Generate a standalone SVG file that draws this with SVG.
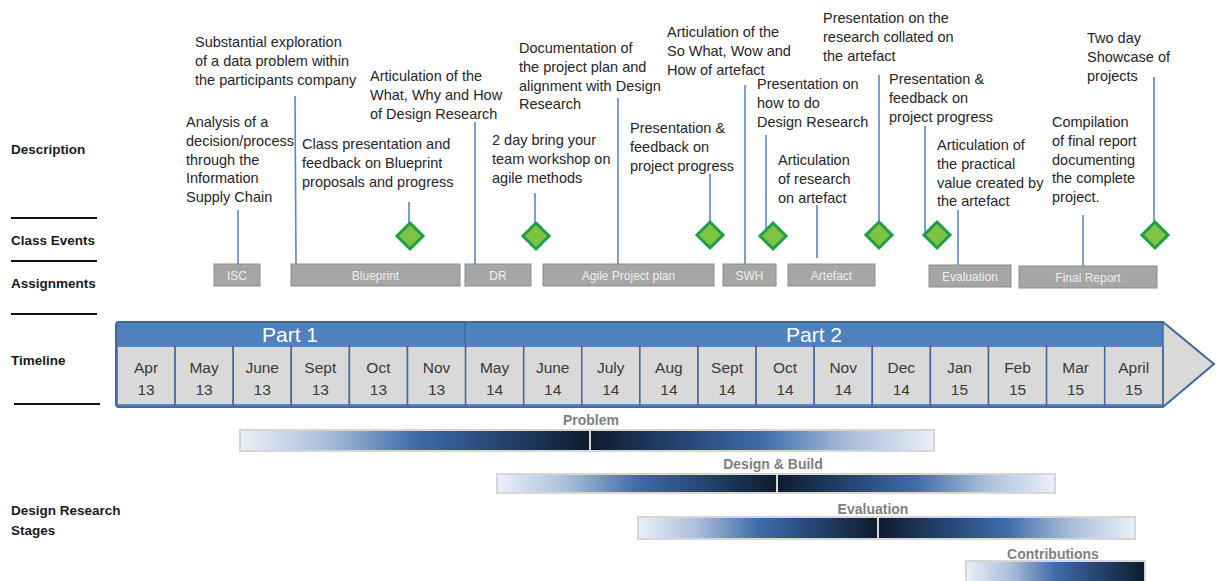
<svg xmlns="http://www.w3.org/2000/svg" width="1216" height="581" viewBox="0 0 1216 581">
<style>
.lbl{font-family:"Liberation Sans",Arial,sans-serif;font-weight:bold;font-size:13.5px;fill:#1a1a1a}
.rule{stroke:#111;stroke-width:2}
.desc{font-family:"Liberation Sans",Arial,sans-serif;font-size:14.5px;fill:#262626}
.conn{stroke:#5B87C0;stroke-width:1.6;fill:none}
.dia{fill:#7DC444;stroke:#1E9E45;stroke-width:3;stroke-linejoin:miter}
.box{fill:#A6A6A6;stroke:#8C8C8C;stroke-width:1}
.boxt{font-family:"Liberation Sans",Arial,sans-serif;font-size:12px;fill:#EEEEEE;text-anchor:middle}
.cell{fill:#D9D9D9;stroke:#3F6A9E;stroke-width:1.5}
.mon{font-family:"Liberation Sans",Arial,sans-serif;font-size:15.5px;fill:#3a3a3a;text-anchor:middle}
.part{font-family:"Liberation Sans",Arial,sans-serif;font-size:21px;fill:#ffffff;text-anchor:middle}
.stg{font-family:"Liberation Sans",Arial,sans-serif;font-weight:bold;font-size:14px;fill:#7F7F7F;text-anchor:middle}
.barbox{fill:#D6D6D6}
</style>
<defs>
<linearGradient id="up" x1="0" y1="0" x2="1" y2="0">
<stop offset="0" stop-color="#EAF0F8"/>
<stop offset="0.25" stop-color="#A9BDDA"/>
<stop offset="0.5" stop-color="#3E6CAA"/>
<stop offset="0.78" stop-color="#213E68"/>
<stop offset="1" stop-color="#0E1A2C"/>
</linearGradient>
<linearGradient id="down" x1="1" y1="0" x2="0" y2="0">
<stop offset="0" stop-color="#EAF0F8"/>
<stop offset="0.25" stop-color="#A9BDDA"/>
<stop offset="0.5" stop-color="#3E6CAA"/>
<stop offset="0.78" stop-color="#213E68"/>
<stop offset="1" stop-color="#0E1A2C"/>
</linearGradient>
<path id="diamond" d="M0,-13 L13,0 L0,13 L-13,0 Z"/>
</defs>
<rect width="1216" height="581" fill="#ffffff"/>

<g id="row-labels">
<text class="lbl" x="11" y="154">Description</text>
<line class="rule" x1="11" y1="218" x2="97" y2="218"/>
<text class="lbl" x="11" y="245">Class Events</text>
<line class="rule" x1="11" y1="261" x2="97" y2="261"/>
<text class="lbl" x="11" y="288">Assignments</text>
<line class="rule" x1="11" y1="314" x2="97" y2="314"/>
<text class="lbl" x="11" y="365">Timeline</text>
<line class="rule" x1="14" y1="404" x2="100" y2="404"/>
<text class="lbl" x="11" y="515">Design Research</text>
<text class="lbl" x="11" y="535">Stages</text>
</g>

<g id="descriptions">
<text id="d-isc" class="desc" x="186" y="127"><tspan x="186">Analysis of a</tspan><tspan x="186" dy="18.8">decision/process</tspan><tspan x="186" dy="18.8">through the</tspan><tspan x="186" dy="18.8">Information</tspan><tspan x="186" dy="18.8">Supply Chain</tspan></text>
<text id="d-blueprint" class="desc" x="195" y="47"><tspan x="195">Substantial exploration</tspan><tspan x="195" dy="18.8">of a data problem within</tspan><tspan x="195" dy="18.8">the participants company</tspan></text>
<text id="d-dr" class="desc" x="370" y="81"><tspan x="370">Articulation of the</tspan><tspan x="370" dy="18.8">What, Why and How</tspan><tspan x="370" dy="18.8">of Design Research</tspan></text>
<text id="d-class1" class="desc" x="302" y="149"><tspan x="302">Class presentation and</tspan><tspan x="302" dy="18.8">feedback on Blueprint</tspan><tspan x="302" dy="18.8">proposals and progress</tspan></text>
<text id="d-agile" class="desc" x="519" y="53"><tspan x="519">Documentation of</tspan><tspan x="519" dy="18.8">the project plan and</tspan><tspan x="519" dy="18.8">alignment with Design</tspan><tspan x="519" dy="18.8">Research</tspan></text>
<text id="d-workshop" class="desc" x="492" y="145"><tspan x="492">2 day bring your</tspan><tspan x="492" dy="18.8">team workshop on</tspan><tspan x="492" dy="18.8">agile methods</tspan></text>
<text id="d-prog1" class="desc" x="630" y="133"><tspan x="630">Presentation &amp;</tspan><tspan x="630" dy="18.8">feedback on</tspan><tspan x="630" dy="18.8">project progress</tspan></text>
<text id="d-swh" class="desc" x="667" y="37"><tspan x="667">Articulation of the</tspan><tspan x="667" dy="18.8">So What, Wow and</tspan><tspan x="667" dy="18.8">How of artefact</tspan></text>
<text id="d-howto" class="desc" x="757" y="89"><tspan x="757">Presentation on</tspan><tspan x="757" dy="18.8">how to do</tspan><tspan x="757" dy="18.8">Design Research</tspan></text>
<text id="d-artefact" class="desc" x="778" y="165"><tspan x="778">Articulation</tspan><tspan x="778" dy="18.8">of research</tspan><tspan x="778" dy="18.8">on artefact</tspan></text>
<text id="d-collated" class="desc" x="823" y="23"><tspan x="823">Presentation on the</tspan><tspan x="823" dy="18.8">research collated on</tspan><tspan x="823" dy="18.8">the artefact</tspan></text>
<text id="d-prog2" class="desc" x="889" y="84"><tspan x="889">Presentation &amp;</tspan><tspan x="889" dy="18.8">feedback on</tspan><tspan x="889" dy="18.8">project progress</tspan></text>
<text id="d-eval" class="desc" x="937" y="150"><tspan x="937">Articulation of</tspan><tspan x="937" dy="18.8">the practical</tspan><tspan x="937" dy="18.8">value created by</tspan><tspan x="937" dy="18.8">the artefact</tspan></text>
<text id="d-final" class="desc" x="1052" y="127"><tspan x="1052">Compilation</tspan><tspan x="1052" dy="18.8">of final report</tspan><tspan x="1052" dy="18.8">documenting</tspan><tspan x="1052" dy="18.8">the complete</tspan><tspan x="1052" dy="18.8">project.</tspan></text>
<text id="d-showcase" class="desc" x="1087" y="43"><tspan x="1087">Two day</tspan><tspan x="1087" dy="18.8">Showcase of</tspan><tspan x="1087" dy="18.8">projects</tspan></text>
</g>

<g id="connectors">
<line class="conn" x1="238" y1="210" x2="238" y2="264"/>
<line class="conn" x1="295" y1="96" x2="296" y2="264"/>
<line class="conn" x1="475" y1="122" x2="475" y2="264"/>
<line class="conn" x1="409" y1="202" x2="409" y2="223"/>
<line class="conn" x1="535" y1="193" x2="535" y2="223"/>
<line class="conn" x1="618" y1="98" x2="618" y2="264"/>
<line class="conn" x1="710" y1="174" x2="710" y2="222"/>
<line class="conn" x1="745" y1="85" x2="745" y2="264"/>
<line class="conn" x1="766" y1="135" x2="766" y2="229"/>
<line class="conn" x1="817" y1="205" x2="817" y2="258"/>
<line class="conn" x1="879" y1="75" x2="879" y2="222"/>
<line class="conn" x1="925" y1="126" x2="925" y2="233"/>
<line class="conn" x1="958" y1="210" x2="958" y2="265"/>
<line class="conn" x1="1083" y1="215" x2="1083" y2="266"/>
<line class="conn" x1="1154" y1="77" x2="1154" y2="222"/>
</g>

<g id="class-events">
<use id="ev1" href="#diamond" class="dia" x="410" y="236"/>
<use id="ev2" href="#diamond" class="dia" x="536" y="236"/>
<use id="ev3" href="#diamond" class="dia" x="710" y="235"/>
<use id="ev4" href="#diamond" class="dia" x="773" y="236"/>
<use id="ev5" href="#diamond" class="dia" x="879" y="235"/>
<use id="ev6" href="#diamond" class="dia" x="937" y="235"/>
<use id="ev7" href="#diamond" class="dia" x="1155" y="235"/>
</g>

<g id="assignments">
<g id="a-isc"><rect class="box" x="214" y="264" width="46" height="22"/><text class="boxt" x="237" y="279.5">ISC</text></g>
<g id="a-blueprint"><rect class="box" x="291" y="264" width="169" height="22"/><text class="boxt" x="375.5" y="279.5">Blueprint</text></g>
<g id="a-dr"><rect class="box" x="465" y="264" width="66" height="22"/><text class="boxt" x="498" y="279.5">DR</text></g>
<g id="a-agile"><rect class="box" x="543" y="264" width="171" height="22"/><text class="boxt" x="628.5" y="279.5">Agile Project plan</text></g>
<g id="a-swh"><rect class="box" x="723" y="264" width="53" height="22"/><text class="boxt" x="749.5" y="279.5">SWH</text></g>
<g id="a-artefact"><rect class="box" x="788" y="264" width="87" height="22"/><text class="boxt" x="831.5" y="279.5">Artefact</text></g>
<g id="a-evaluation"><rect class="box" x="929" y="265" width="82" height="22"/><text class="boxt" x="970" y="280.5">Evaluation</text></g>
<g id="a-final"><rect class="box" x="1019" y="266" width="138" height="22"/><text class="boxt" x="1088" y="281.5">Final Report</text></g>
</g>

<g id="timeline">
<path d="M119,322 H1163 L1214,364 L1163,407 H119 Q116,407 116,404 V325 Q116,322 119,322 Z" fill="#D9D9D9" stroke="#3F6A9E" stroke-width="2"/>
<rect x="117" y="323" width="1046" height="22" fill="#4F81BD"/>
<line x1="465" y1="323" x2="465" y2="345" stroke="#3F6A9E" stroke-width="1.5"/>
<line x1="1163" y1="322" x2="1163" y2="407" stroke="#3F6A9E" stroke-width="1.5"/>
<text class="part" x="290" y="342">Part 1</text>
<text class="part" x="814" y="342">Part 2</text>
<g id="months">
<rect class="cell" x="117" y="346" width="58.1" height="59"/>
<rect class="cell" x="175.1" y="346" width="58.1" height="59"/>
<rect class="cell" x="233.2" y="346" width="58.1" height="59"/>
<rect class="cell" x="291.3" y="346" width="58.1" height="59"/>
<rect class="cell" x="349.4" y="346" width="58.1" height="59"/>
<rect class="cell" x="407.5" y="346" width="58.1" height="59"/>
<rect class="cell" x="465.6" y="346" width="58.1" height="59"/>
<rect class="cell" x="523.7" y="346" width="58.1" height="59"/>
<rect class="cell" x="581.8" y="346" width="58.1" height="59"/>
<rect class="cell" x="639.9" y="346" width="58.1" height="59"/>
<rect class="cell" x="698" y="346" width="58.1" height="59"/>
<rect class="cell" x="756.1" y="346" width="58.1" height="59"/>
<rect class="cell" x="814.2" y="346" width="58.1" height="59"/>
<rect class="cell" x="872.3" y="346" width="58.1" height="59"/>
<rect class="cell" x="930.4" y="346" width="58.1" height="59"/>
<rect class="cell" x="988.5" y="346" width="58.1" height="59"/>
<rect class="cell" x="1046.6" y="346" width="58.1" height="59"/>
<rect class="cell" x="1104.7" y="346" width="58.1" height="59"/>
<text class="mon" x="146" y="373">Apr<tspan x="146" dy="22">13</tspan></text>
<text class="mon" x="204.1" y="373">May<tspan x="204.1" dy="22">13</tspan></text>
<text class="mon" x="262.2" y="373">June<tspan x="262.2" dy="22">13</tspan></text>
<text class="mon" x="320.3" y="373">Sept<tspan x="320.3" dy="22">13</tspan></text>
<text class="mon" x="378.4" y="373">Oct<tspan x="378.4" dy="22">13</tspan></text>
<text class="mon" x="436.5" y="373">Nov<tspan x="436.5" dy="22">13</tspan></text>
<text class="mon" x="494.6" y="373">May<tspan x="494.6" dy="22">14</tspan></text>
<text class="mon" x="552.7" y="373">June<tspan x="552.7" dy="22">14</tspan></text>
<text class="mon" x="610.8" y="373">July<tspan x="610.8" dy="22">14</tspan></text>
<text class="mon" x="668.9" y="373">Aug<tspan x="668.9" dy="22">14</tspan></text>
<text class="mon" x="727" y="373">Sept<tspan x="727" dy="22">14</tspan></text>
<text class="mon" x="785.1" y="373">Oct<tspan x="785.1" dy="22">14</tspan></text>
<text class="mon" x="843.2" y="373">Nov<tspan x="843.2" dy="22">14</tspan></text>
<text class="mon" x="901.3" y="373">Dec<tspan x="901.3" dy="22">14</tspan></text>
<text class="mon" x="959.4" y="373">Jan<tspan x="959.4" dy="22">15</tspan></text>
<text class="mon" x="1017.5" y="373">Feb<tspan x="1017.5" dy="22">15</tspan></text>
<text class="mon" x="1075.6" y="373">Mar<tspan x="1075.6" dy="22">15</tspan></text>
<text class="mon" x="1133.7" y="373">April<tspan x="1133.7" dy="22">15</tspan></text>
</g>
</g>

<g id="stage-problem">
<text class="stg" x="591" y="425">Problem</text>
<rect class="barbox" x="239" y="429" width="696" height="23"/>
<rect x="241" y="431" width="348" height="19" fill="url(#up)"/>
<rect x="591" y="431" width="342" height="19" fill="url(#down)"/>
</g>
<g id="stage-design">
<text class="stg" x="773" y="469">Design &amp; Build</text>
<rect class="barbox" x="496" y="473" width="560" height="21"/>
<rect x="498" y="475" width="278" height="17" fill="url(#up)"/>
<rect x="778" y="475" width="276" height="17" fill="url(#down)"/>
</g>
<g id="stage-evaluation">
<text class="stg" x="873" y="514">Evaluation</text>
<rect class="barbox" x="637" y="516" width="499" height="24"/>
<rect x="639" y="518" width="238" height="20" fill="url(#up)"/>
<rect x="879" y="518" width="255" height="20" fill="url(#down)"/>
</g>
<g id="stage-contributions">
<text class="stg" x="1053" y="559">Contributions</text>
<rect class="barbox" x="965" y="560" width="181" height="24"/>
<rect x="967" y="562" width="177" height="22" fill="url(#up)"/>
</g>
</svg>
